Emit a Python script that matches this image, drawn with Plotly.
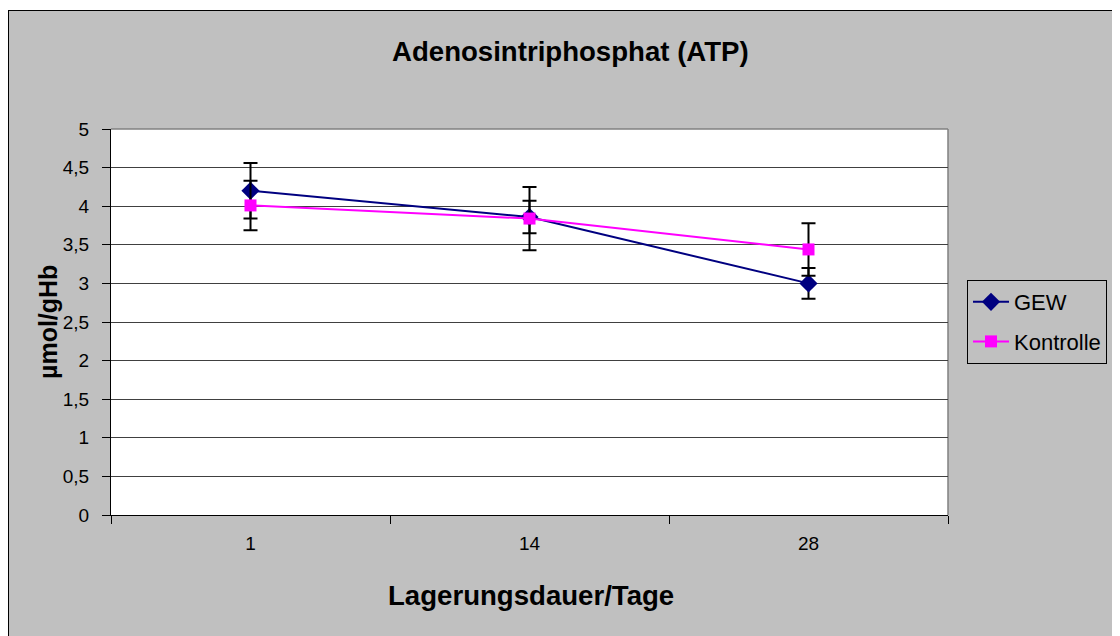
import plotly.graph_objects as go

# ---- data ----
days = ["1", "14", "28"]
gew = [4.20, 3.86, 3.00]
gew_err = [0.36, 0.21, 0.20]
kontrolle = [4.01, 3.84, 3.44]
kontrolle_err = [0.32, 0.41, 0.34]
y_ticks = [0, 0.5, 1, 1.5, 2, 2.5, 3, 3.5, 4, 4.5, 5]

OFF = 8  # page body margin
W, H = 1120 - OFF, 636 - OFF
L, R, T, B = 111 - OFF, 948 - OFF, 129 - OFF, 515 - OFF  # plot area (figure px)
FONT = "Liberation Sans, Arial, sans-serif"


def px(x):  # page pixel -> paper x
    return (x - OFF - L) / (R - L)


def py(y):  # page pixel -> paper y
    return (B - (y - OFF)) / (B - T)


fig = go.Figure()
fig.add_trace(go.Scatter(
    x=days, y=gew, name="GEW", mode="lines+markers", legendgroup="g1",
    line=dict(color="#000080", width=2),
    marker=dict(symbol="diamond", size=14, color="#000080"),
    error_y=dict(type="data", array=gew_err, visible=True,
                 color="black", thickness=2, width=7),
))
fig.add_trace(go.Scatter(
    x=days, y=kontrolle, name="Kontrolle", mode="lines+markers", legendgroup="g2",
    line=dict(color="#FF00FF", width=2),
    marker=dict(symbol="square", size=12, color="#FF00FF"),
    error_y=dict(type="data", array=kontrolle_err, visible=True,
                 color="black", thickness=2, width=7),
))

shapes = [
    # white strip above outer frame
    dict(type="rect", xref="paper", yref="paper", x0=px(0), x1=px(1140),
         y0=py(10), y1=py(-10), fillcolor="white", line=dict(width=0), layer="above"),
    # outer frame lines
    dict(type="line", xref="paper", yref="paper", x0=px(8), x1=px(1140),
         y0=py(10.5), y1=py(10.5), line=dict(color="black", width=1), layer="above"),
    dict(type="line", xref="paper", yref="paper", x0=px(8.5), x1=px(8.5),
         y0=py(10), y1=py(660), line=dict(color="black", width=1), layer="above"),
    # grey top / right plot border
    dict(type="line", xref="paper", yref="paper", x0=0, x1=1, y0=1, y1=1,
         line=dict(color="#808080", width=1.5), layer="above"),
    dict(type="line", xref="paper", yref="paper", x0=1, x1=1, y0=0, y1=1,
         line=dict(color="#808080", width=1.5), layer="below"),
]

annotations = [
    dict(text="<b>Adenosintriphosphat (ATP)</b>", xref="paper", yref="paper",
         x=px(570), y=py(52), xanchor="center", yanchor="middle", showarrow=False,
         font=dict(family=FONT, size=27.6, color="black")),
    dict(text="<b>Lagerungsdauer/Tage</b>", xref="paper", yref="paper",
         x=px(531), y=py(595), xanchor="center", yanchor="middle", showarrow=False,
         font=dict(family=FONT, size=27.6, color="black")),
    dict(text="<b>µmol/gHb</b>", xref="paper", yref="paper",
         x=px(48), y=py(322), xanchor="center", yanchor="middle", showarrow=False,
         textangle=-90, font=dict(family=FONT, size=25, color="black")),
]

fig.update_layout(
    width=W, height=H,
    margin=dict(l=L, r=W - R, t=T, b=H - B, pad=0, autoexpand=False),
    paper_bgcolor="#C0C0C0", plot_bgcolor="white",
    separators=",.",
    font=dict(family=FONT, size=19, color="black"),
    showlegend=True,
    legend=dict(x=px(967), y=py(280), xanchor="left", yanchor="top",
                bgcolor="#C0C0C0", bordercolor="black", borderwidth=1,
                font=dict(family=FONT, size=22, color="black"),
                tracegroupgap=8, itemwidth=36),
    shapes=shapes, annotations=annotations,
)
fig.update_xaxes(
    type="category", range=[-0.5, 2.5], tickson="boundaries",
    ticks="outside", ticklen=8, tickcolor="black", tickwidth=1,
    showline=True, linecolor="black", linewidth=1,
    showgrid=False, zeroline=False,
    tickfont=dict(family=FONT, size=19), ticklabelstandoff=11,
)
fig.update_yaxes(
    range=[0, 5], tickvals=y_ticks, tickformat=".1~f",
    ticks="outside", ticklen=8, tickcolor="black", tickwidth=1,
    showline=True, linecolor="black", linewidth=1,
    showgrid=True, gridcolor="#404040", gridwidth=1, zeroline=False,
    tickfont=dict(family=FONT, size=19), ticklabelstandoff=9,
)

fig.write_html("out.html")
